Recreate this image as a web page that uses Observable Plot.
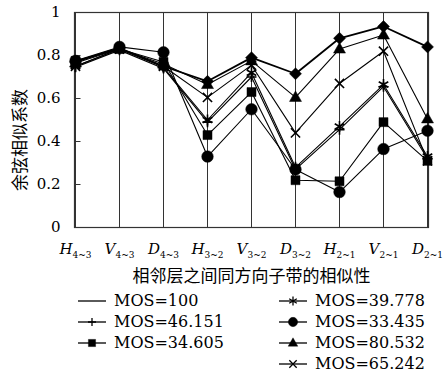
<!DOCTYPE html>
<html><head><meta charset="utf-8">
<script src="https://cdn.jsdelivr.net/npm/d3@7"></script>
<script src="https://cdn.jsdelivr.net/npm/@observablehq/plot@0.6"></script>
<style>
body{margin:0;background:#fff;}
#chart{width:445px;position:relative;}
.legend{position:relative;width:445px;height:86px;font-family:"DejaVu Serif","Liberation Serif",serif;font-size:16px;color:#000;}
.item{position:absolute;height:21px;display:flex;align-items:center;white-space:nowrap;}
.item svg{margin-right:7px;}
</style></head><body><div id="chart"></div>
<script>
const categories = ["H4~3","V4~3","D4~3","H3~2","V3~2","D3~2","H2~1","V2~1","D2~1"];
const catLetters = ["H","V","D","H","V","D","H","V","D"];
const catSubs = ["4~3","4~3","4~3","3~2","3~2","3~2","2~1","2~1","2~1"];
const yTicks = [0,0.2,0.4,0.6,0.8,1];
const seriesNames = ["MOS=100","MOS=46.151","MOS=34.605","MOS=39.778","MOS=33.435","MOS=80.532","MOS=65.242"];
const mos100   = [0.77,0.835,0.75,0.68,0.79,0.715,0.88,0.935,0.84];
const mos46151 = [0.745,0.825,0.74,0.49,0.70,0.27,0.455,0.655,0.32];
const mos34605 = [0.775,0.83,0.77,0.43,0.63,0.22,0.215,0.49,0.31];
const mos39778 = [0.75,0.83,0.745,0.50,0.72,0.28,0.47,0.665,0.33];
const mos33435 = [0.775,0.84,0.815,0.33,0.55,0.27,0.165,0.365,0.45];
const mos80532 = [0.765,0.83,0.76,0.665,0.775,0.605,0.83,0.895,0.505];
const mos65242 = [0.75,0.83,0.75,0.605,0.755,0.44,0.67,0.82,0.31];
const seriesValues = [mos100,mos46151,mos34605,mos39778,mos33435,mos80532,mos65242];

function sym(fn){return {draw(ctx){fn(ctx);}};}
const symbols = {
  diamond: sym(c=>{c.moveTo(0,-6);c.lineTo(6,0);c.lineTo(0,6);c.lineTo(-6,0);c.closePath();}),
  plus: sym(c=>{c.moveTo(-5,0);c.lineTo(5,0);c.moveTo(0,-5);c.lineTo(0,5);}),
  square: sym(c=>{c.rect(-4.5,-4.5,9,9);}),
  asterisk: sym(c=>{const r=5.5;c.moveTo(0,-r);c.lineTo(0,r);const a=r*Math.cos(Math.PI/6),b=r*Math.sin(Math.PI/6);c.moveTo(-a,-b);c.lineTo(a,b);c.moveTo(-a,b);c.lineTo(a,-b);}),
  circle: sym(c=>{c.moveTo(5.8,0);c.arc(0,0,5.8,0,2*Math.PI);}),
  triangle: sym(c=>{c.moveTo(0,-6.5);c.lineTo(6,4);c.lineTo(-6,4);c.closePath();}),
  times: sym(c=>{const r=4.6;c.moveTo(-r,-r);c.lineTo(r,r);c.moveTo(-r,r);c.lineTo(r,-r);}),
  tickRight: sym(c=>{c.moveTo(0,0);c.lineTo(5,0);})
};
const seriesSymbol = ["diamond","plus","square","asterisk","circle","triangle","times"];
const seriesFilled = [true,false,true,false,true,true,false];
const legendSymbol = [null,"plus","square","asterisk","circle","triangle","times"];

const table = [];
seriesNames.forEach((s,i)=>categories.forEach((c,j)=>table.push({series:s,cat:c,value:seriesValues[i][j]})));

const serifFont = "'DejaVu Serif','Liberation Serif',serif";
const marks = [
  Plot.frame({stroke:"#333",strokeWidth:1.2}),
  Plot.axisY({ticks:yTicks,tickSize:0,tickPadding:14,tickFormat:d=>(d===0||d===1)?String(d):d.toFixed(1),label:null,fontSize:15}),
  Plot.axisX({tickSize:0,tickPadding:16,label:null,fontSize:15}),
  Plot.tickX(categories,{x:d=>d,y1:0,y2:0.03,stroke:"#333"}),
  Plot.dot(yTicks.slice(1,-1),{y:d=>d,x:()=>categories[0],symbol:symbols.tickRight,r:3,fill:"none",stroke:"#333",strokeWidth:1}),
  Plot.text(["相邻层之间同方向子带的相似性"],{frameAnchor:"bottom",dy:54,fontSize:17,fontFamily:"Noto Sans CJK SC"}),
  Plot.text(["余弦相似系数"],{frameAnchor:"left",dx:-54,dy:20,rotate:-90,textAnchor:"middle",fontSize:17,fontFamily:"Noto Sans CJK SC"})
];
seriesNames.forEach((s,i)=>{
  const d = table.filter(r=>r.series===s);
  marks.push(Plot.line(d,{x:"cat",y:"value",stroke:"black",strokeWidth:i===0?1.8:1.1}));
});
seriesNames.forEach((s,i)=>{
  const d = table.filter(r=>r.series===s);
  marks.push(Plot.dot(d,{x:"cat",y:"value",symbol:symbols[seriesSymbol[i]],r:6,
    fill:seriesFilled[i]?"black":"none",stroke:"black",strokeWidth:seriesFilled[i]?0.5:1.6}));
});

const chart = Plot.plot({
  width:445,height:290,
  marginLeft:74,marginRight:17,marginTop:12,marginBottom:63,
  style:{fontFamily:serifFont,fontSize:"15px",color:"black",background:"white"},
  x:{type:"point",domain:categories,padding:0},
  y:{domain:[0,1]},
  marks
});
document.getElementById("chart").appendChild(chart);
d3.select(chart).selectAll('g[aria-label="x-axis tick label"] text').each(function(d,i){
  const t=d3.select(this); t.text(null);
  t.append("tspan").attr("font-style","italic").attr("font-size",15).text(catLetters[i]);
  t.append("tspan").attr("font-size",9).attr("dy",4).text(catSubs[i]);
});

// legend
const leg = d3.select("#chart").append("div").attr("class","legend");
const pos = [[77,0],[77,1],[77,2],[278,0],[278,1],[278,2],[278,3]];
seriesNames.forEach((s,i)=>{
  const it = leg.append("div").attr("class","item").style("left",pos[i][0]+"px").style("top",(pos[i][1]*21)+"px");
  const sv = it.append("svg").attr("width",30).attr("height",14);
  sv.append("line").attr("x1",1).attr("x2",29).attr("y1",7).attr("y2",7).attr("stroke","black").attr("stroke-width",1.3);
  if(legendSymbol[i]){
    const p = d3.path(); symbols[legendSymbol[i]].draw(p);
    sv.append("path").attr("transform","translate(15,7) scale(0.8)").attr("d",p.toString())
      .attr("fill",seriesFilled[i]?"black":"none").attr("stroke","black").attr("stroke-width",seriesFilled[i]?0.5:1.6);
  }
  it.append("span").text(s);
});
</script></body></html>
